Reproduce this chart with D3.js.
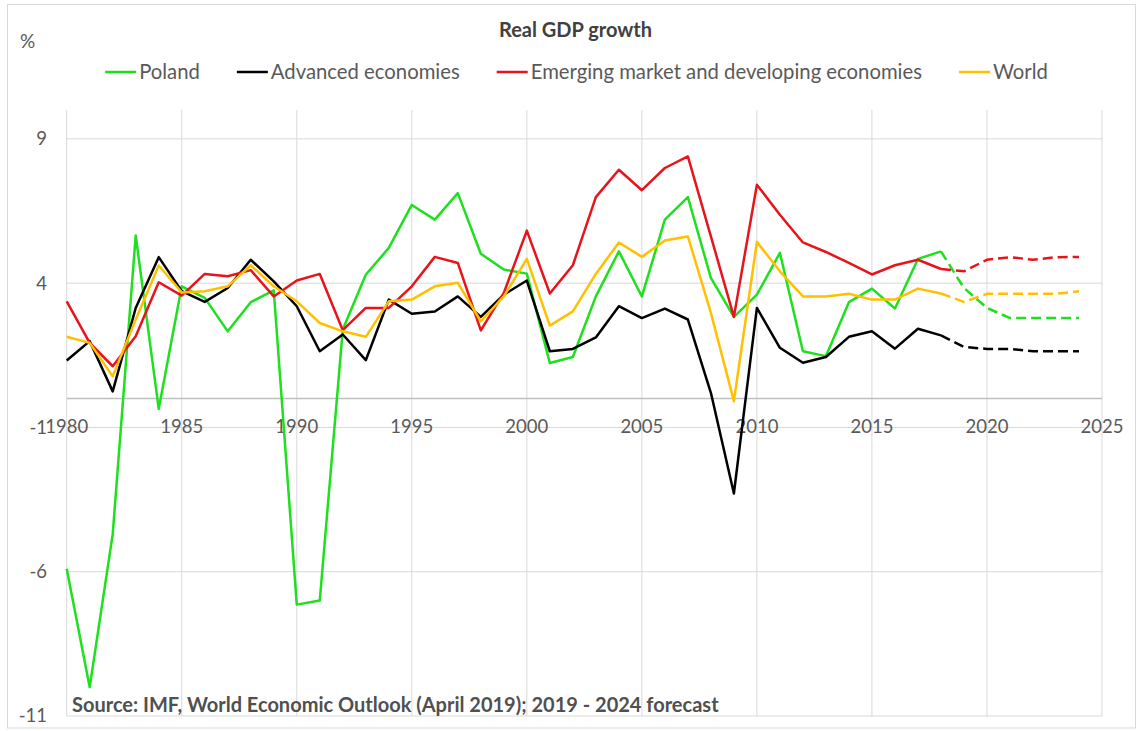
<!DOCTYPE html>
<html>
<head>
<meta charset="utf-8">
<title>Real GDP growth</title>
<script src="https://d3js.org/d3.v7.min.js"></script>
<style>
  body { margin: 0; background: #fff; }
  svg text { font-family: Lato, "Open Sans", sans-serif; fill: #595959; }
</style>
</head>
<body>
<svg id="chart" width="1137" height="731"></svg>
<script>
// ---- data ----
const years = [1980, 1981, 1982, 1983, 1984, 1985, 1986, 1987, 1988, 1989,
  1990, 1991, 1992, 1993, 1994, 1995, 1996, 1997, 1998, 1999,
  2000, 2001, 2002, 2003, 2004, 2005, 2006, 2007, 2008, 2009,
  2010, 2011, 2012, 2013, 2014, 2015, 2016, 2017, 2018, 2019,
  2020, 2021, 2022, 2023, 2024];
const poland = [-5.9, -10.0, -4.7, 5.65, -0.36, 3.89, 3.49, 2.33, 3.34, 3.75,
  -7.14, -7.0, 2.39, 4.29, 5.22, 6.71, 6.2, 7.12, 5.02, 4.47,
  4.33, 1.23, 1.44, 3.54, 5.1, 3.54, 6.2, 6.98, 4.18, 2.83,
  3.6, 5.05, 1.64, 1.47, 3.34, 3.81, 3.12, 4.84, 5.1, 3.83,
  3.14, 2.79, 2.79, 2.79, 2.79];
const advanced = [1.32, 1.99, 0.25, 3.14, 4.9, 3.72, 3.35, 3.83, 4.81, 4.06,
  3.2, 1.64, 2.22, 1.33, 3.43, 2.94, 3.02, 3.54, 2.83, 3.6,
  4.09, 1.64, 1.72, 2.12, 3.2, 2.79, 3.12, 2.74, 0.2, -3.29,
  3.14, 1.76, 1.24, 1.44, 2.14, 2.33, 1.73, 2.42, 2.19, 1.79,
  1.72, 1.72, 1.64, 1.64, 1.64];
const emerging = [3.37, 1.93, 1.12, 2.16, 4.03, 3.57, 4.32, 4.24, 4.45, 3.54,
  4.09, 4.32, 2.37, 3.14, 3.14, 3.89, 4.91, 4.7, 2.36, 3.66,
  5.82, 3.64, 4.62, 6.98, 7.93, 7.22, 7.99, 8.39, 5.62, 2.83,
  7.41, 6.37, 5.41, 5.08, 4.7, 4.3, 4.62, 4.81, 4.49, 4.41,
  4.81, 4.9, 4.81, 4.9, 4.91];
const world = [2.14, 1.93, 0.77, 2.74, 4.61, 3.68, 3.72, 3.89, 4.62, 3.89,
  3.37, 2.62, 2.33, 2.14, 3.37, 3.43, 3.89, 4.01, 2.68, 3.54,
  4.84, 2.53, 3.02, 4.32, 5.41, 4.91, 5.48, 5.62, 2.97, -0.09,
  5.43, 4.41, 3.54, 3.54, 3.63, 3.43, 3.43, 3.81, 3.64, 3.35,
  3.63, 3.63, 3.63, 3.63, 3.72];
const seriesNames = ['Poland', 'Advanced economies', 'Emerging market and developing economies', 'World'];
const seriesColors = ['#1ee01e', '#000000', '#e8131b', '#ffc000'];
const lastActual = 2018;
const yTicks = [-11, -6, -1, 4, 9];
const xTicks = [1980, 1985, 1990, 1995, 2000, 2005, 2010, 2015, 2020, 2025];

const svg = d3.select('#chart');

// outer frame
svg.append('rect')
  .attr('x', 7.5).attr('y', 4.5).attr('width', 1128).attr('height', 723.5)
  .attr('fill', '#fff').attr('stroke', '#d9d9d9');

const x = d3.scaleLinear().domain([1980, 2025]).range([66.7, 1102]);
const y = d3.scaleLinear().domain([-11, 10]).range([716, 110]);

// gridlines
const grid = svg.append('g');
grid.selectAll('.vg').data(xTicks).enter().append('line')
  .attr('x1', d => x(d)).attr('x2', d => x(d))
  .attr('y1', y(10)).attr('y2', y(-11))
  .attr('stroke', '#d9d9d9').attr('stroke-width', 1);
grid.selectAll('.hg').data(yTicks).enter().append('line')
  .attr('x1', x(1980)).attr('x2', x(2025))
  .attr('y1', d => y(d)).attr('y2', d => y(d))
  .attr('stroke', '#d9d9d9').attr('stroke-width', 1);
// horizontal axis at zero
svg.append('line')
  .attr('x1', x(1980)).attr('x2', x(2025))
  .attr('y1', y(0)).attr('y2', y(0))
  .attr('stroke', '#bfbfbf').attr('stroke-width', 1.5);

// y tick labels
svg.append('g').selectAll('text').data(yTicks).enter().append('text')
  .attr('x', 47).attr('y', d => y(d)).attr('dy', '0.35em')
  .attr('text-anchor', 'end').style('font-size', '18.5px')
  .text(d => d);

// x tick labels, placed below the zero axis
svg.append('g').selectAll('text').data(xTicks).enter().append('text')
  .attr('x', d => x(d)).attr('y', y(0) + 28).attr('dy', '0.35em')
  .attr('text-anchor', 'middle').style('font-size', '18.5px')
  .text(d => d);

// lines: solid up to lastActual, dashed after
const allSeries = [poland, advanced, emerging, world];
const line = d3.line().x(d => x(d.year)).y(d => y(d.value));
allSeries.forEach((vals, i) => {
  const pts = years.map((yr, j) => ({year: yr, value: vals[j]}));
  svg.append('path')
    .datum(pts.filter(p => p.year <= lastActual))
    .attr('d', line).attr('fill', 'none')
    .attr('stroke', seriesColors[i]).attr('stroke-width', 2.5)
    .attr('stroke-linejoin', 'round');
  svg.append('path')
    .datum(pts.filter(p => p.year >= lastActual))
    .attr('d', line).attr('fill', 'none')
    .attr('stroke', seriesColors[i]).attr('stroke-width', 2.5)
    .attr('stroke-dasharray', '10,5');
});

// title and unit
svg.append('text').attr('x', 575.5).attr('y', 30).attr('dy', '0.35em')
  .attr('text-anchor', 'middle')
  .style('font-size', '20px').style('font-weight', 'bold').style('fill', '#404040')
  .text('Real GDP growth');
svg.append('text').attr('x', 20).attr('y', 41).attr('dy', '0.35em')
  .style('font-size', '19px')
  .text('%');

// legend, laid out left to right and centred
const legend = svg.append('g');
let lx = 0;
seriesNames.forEach((name, i) => {
  const g = legend.append('g').attr('transform', `translate(${lx},72)`);
  g.append('line').attr('x1', 0).attr('x2', 31).attr('y1', 0).attr('y2', 0)
    .attr('stroke', seriesColors[i]).attr('stroke-width', 2.5);
  const t = g.append('text').attr('x', 34).attr('dy', '0.35em')
    .style('font-size', '20.3px').text(name);
  lx += 34 + t.node().getComputedTextLength() + 37;
});
const legendW = lx - 37;
legend.attr('transform', `translate(${576.5 - legendW / 2},0)`);

// source note
svg.append('text').attr('x', 72).attr('y', 705).attr('dy', '0.35em')
  .style('font-size', '20px').style('font-weight', 'bold').style('fill', '#505050')
  .text('Source: IMF, World Economic Outlook (April 2019); 2019 - 2024 forecast');
</script>
</body>
</html>
